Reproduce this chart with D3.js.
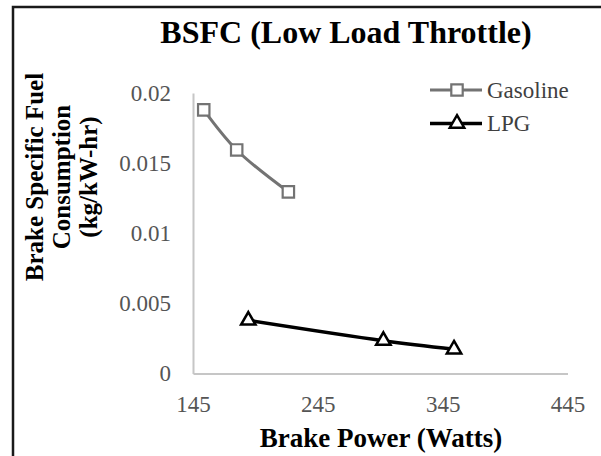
<!DOCTYPE html>
<html>
<head>
<meta charset="utf-8">
<script src="https://cdn.jsdelivr.net/npm/d3@7"></script>
<style>
  html, body { margin: 0; padding: 0; background: #fff; }
  svg { display: block; }
</style>
</head>
<body>
<svg id="chart" width="601" height="456"></svg>
<script>
const title = "BSFC (Low Load Throttle)";
const xTitle = "Brake Power (Watts)";
const yTitleLines = ["Brake Specific Fuel", "Consumption", "(kg/kW-hr)"];
const seriesNames = ["Gasoline", "LPG"];
const gasolinePower = [153.6, 180.0, 221.4];
const gasolineBsfc = [0.0188, 0.01594, 0.01295];
const lpgPower = [189.3, 297.5, 354.1];
const lpgBsfc = [0.00379, 0.00234, 0.00173];
const xTicks = [145, 245, 345, 445];
const yTicks = [0, 0.005, 0.01, 0.015, 0.02];
const yTickLabels = ["0", "0.005", "0.01", "0.015", "0.02"];

const svg = d3.select("#chart");
const serif = "'Liberation Serif', 'Times New Roman', serif";

// outer border (cropped chart frame)
svg.append("rect").attr("x", 13).attr("y", 7).attr("width", 700).attr("height", 600)
  .attr("fill", "none").attr("stroke", "#1a1a1a").attr("stroke-width", 2.5);

const x = d3.scaleLinear().domain([145, 445]).range([193, 567.5]);
const y = d3.scaleLinear().domain([0, 0.02]).range([373.5, 93]);

// axes
const xAxis = d3.axisBottom(x).tickValues(xTicks).tickSize(0).tickPadding(22).tickFormat(d3.format("d"));
const gx = svg.append("g").attr("transform", `translate(0,${y(0)})`).call(xAxis);
gx.select(".domain").attr("stroke", "#c6c6c6").attr("stroke-width", 2);
gx.selectAll("text").attr("font-family", serif).attr("font-size", 23).attr("fill", "#555");

const yAxis = d3.axisLeft(y).tickValues(yTicks).tickSize(0).tickPadding(22)
  .tickFormat((d, i) => yTickLabels[i]);
const gy = svg.append("g").attr("transform", `translate(${x(145)},0)`).call(yAxis);
gy.select(".domain").attr("stroke", "#c6c6c6").attr("stroke-width", 2);
gy.selectAll("text").attr("font-family", serif).attr("font-size", 23).attr("fill", "#555");

// lines
const line = d3.line().x(d => x(d[0])).y(d => y(d[1])).curve(d3.curveCatmullRom.alpha(0.5));
const gasData = gasolinePower.map((p, i) => [p, gasolineBsfc[i]]);
const lpgData = lpgPower.map((p, i) => [p, lpgBsfc[i]]);

svg.append("path").datum(gasData).attr("d", line).attr("fill", "none")
  .attr("stroke", "#737373").attr("stroke-width", 3);
svg.append("path").datum(lpgData).attr("d", line).attr("fill", "none")
  .attr("stroke", "#000").attr("stroke-width", 3.5);

const sq = d3.symbol().type(d3.symbolSquare).size(130);
const tri = d3.symbol().type(d3.symbolTriangle).size(90);

svg.selectAll(".gm").data(gasData).join("path").attr("class", "gm")
  .attr("d", sq).attr("transform", d => `translate(${x(d[0])},${y(d[1])})`)
  .attr("fill", "#fff").attr("stroke", "#737373").attr("stroke-width", 2.2);
svg.selectAll(".lm").data(lpgData).join("path").attr("class", "lm")
  .attr("d", tri).attr("transform", d => `translate(${x(d[0])},${y(d[1])})`)
  .attr("fill", "#fff").attr("stroke", "#000").attr("stroke-width", 2.5);

// title
svg.append("text").attr("x", 346).attr("y", 43).attr("text-anchor", "middle")
  .attr("font-family", serif).attr("font-weight", "bold").attr("font-size", 32)
  .attr("fill", "#000").text(title);

// x title
svg.append("text").attr("x", 381).attr("y", 447).attr("text-anchor", "middle")
  .attr("font-family", serif).attr("font-weight", "bold").attr("font-size", 27)
  .attr("fill", "#000").text(xTitle);

// y title
const yBase = [43, 70, 97];
yTitleLines.forEach((t, i) => {
  svg.append("text").attr("transform", `translate(${yBase[i]},177) rotate(-90)`)
    .attr("text-anchor", "middle")
    .attr("font-family", serif).attr("font-weight", "bold").attr("font-size", 25)
    .attr("fill", "#000").text(t);
});

// legend
const legend = [
  {name: seriesNames[0], y: 90, color: "#737373", sym: sq, sw: 3, msw: 2.2},
  {name: seriesNames[1], y: 123.5, color: "#000", sym: tri, sw: 3.5, msw: 2.5}
];
legend.forEach(l => {
  svg.append("line").attr("x1", 430).attr("x2", 482).attr("y1", l.y).attr("y2", l.y)
    .attr("stroke", l.color).attr("stroke-width", l.sw);
  svg.append("path").attr("d", l.sym).attr("transform", `translate(457,${l.y})`)
    .attr("fill", "#fff").attr("stroke", l.color).attr("stroke-width", l.msw);
  svg.append("text").attr("x", 487).attr("y", l.y + 7.5)
    .attr("font-family", serif).attr("font-size", 23).attr("fill", "#404040").text(l.name);
});
</script>
</body>
</html>
